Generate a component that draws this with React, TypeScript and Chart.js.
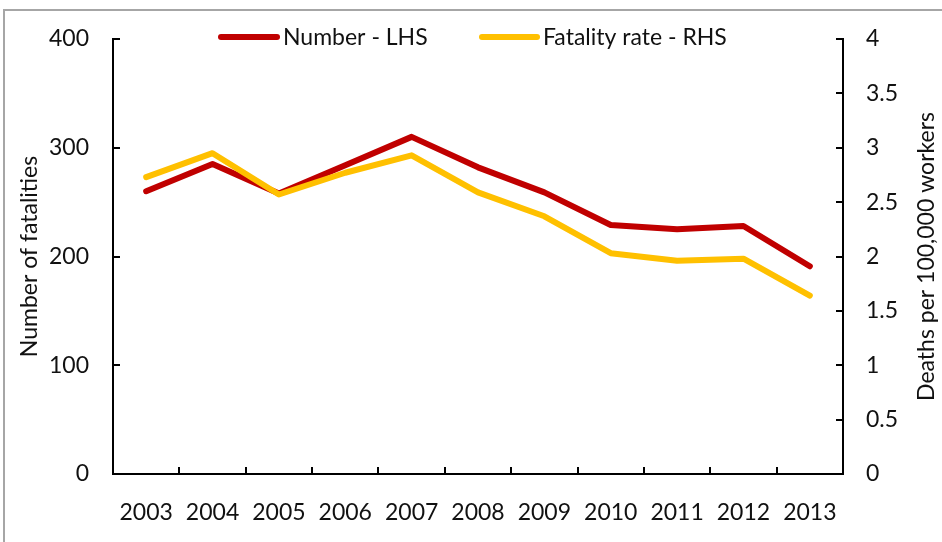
import React, { useEffect, useRef } from "react";
import { Chart, registerables } from "chart.js";

Chart.register(...registerables);

const years = ["2003", "2004", "2005", "2006", "2007", "2008", "2009", "2010", "2011", "2012", "2013"];
const fatalities = [260, 285, 258, 284, 310, 282, 259, 229, 225, 228, 191];
const fatalityRate = [2.73, 2.95, 2.57, 2.77, 2.93, 2.59, 2.37, 2.03, 1.96, 1.98, 1.64];
const leftTicks = [0, 100, 200, 300, 400];
const rightTicks = [0, 0.5, 1, 1.5, 2, 2.5, 3, 3.5, 4];
const legendLabels = ["Number - LHS", "Fatality rate - RHS"];
const leftTitle = "Number of fatalities";
const rightTitle = "Deaths per 100,000 workers";

const RED = "#C00000";
const YELLOW = "#FFC000";
const FONT = "Lato, 'Open Sans', sans-serif";
const TEXT = "#111111";

export default function App() {
  const ref = useRef<HTMLCanvasElement | null>(null);

  useEffect(() => {
    if (!ref.current) return;
    const deco = {
      id: "deco",
      afterDraw(chart: any) {
        const ctx = chart.ctx;
        const a = chart.chartArea;
        const yL = chart.scales.y;
        const yR = chart.scales.y1;
        ctx.save();
        ctx.strokeStyle = "#000";
        ctx.lineWidth = 2;
        ctx.beginPath();
        leftTicks.forEach((v) => {
          const y = Math.round(yL.getPixelForValue(v));
          ctx.moveTo(a.left, y);
          ctx.lineTo(a.left + 7, y);
        });
        rightTicks.forEach((v) => {
          const y = Math.round(yR.getPixelForValue(v));
          ctx.moveTo(a.right - 7, y);
          ctx.lineTo(a.right, y);
        });
        const n = years.length;
        for (let i = 1; i < n; i++) {
          const x = Math.round(a.left + ((a.right - a.left) * i) / n);
          ctx.moveTo(x, a.bottom);
          ctx.lineTo(x, a.bottom - 7);
        }
        ctx.stroke();

        // titles
        ctx.fillStyle = TEXT;
        ctx.font = `23px ${FONT}`;
        ctx.textAlign = "center";
        ctx.textBaseline = "middle";
        const cy = (a.top + a.bottom) / 2;
        ctx.save();
        ctx.translate(30, cy);
        ctx.rotate(-Math.PI / 2);
        ctx.fillText(leftTitle, 0, 0);
        ctx.restore();
        ctx.save();
        ctx.translate(927, cy);
        ctx.rotate(-Math.PI / 2);
        ctx.fillText(rightTitle, 0, 0);
        ctx.restore();

        // legend
        const items = [
          { x0: 221, x1: 277, tx: 283, color: RED, label: legendLabels[0] },
          { x0: 482, x1: 537, tx: 543, color: YELLOW, label: legendLabels[1] },
        ];
        ctx.lineCap = "round";
        ctx.lineWidth = 6;
        ctx.textAlign = "left";
        items.forEach((it) => {
          ctx.strokeStyle = it.color;
          ctx.beginPath();
          ctx.moveTo(it.x0, 37);
          ctx.lineTo(it.x1, 37);
          ctx.stroke();
          ctx.fillStyle = TEXT;
          ctx.fillText(it.label, it.tx, 38);
        });
        ctx.restore();
      },
    };

    const tickFont = { family: FONT, size: 23 };
    const chart = new Chart(ref.current, {
      type: "line",
      data: {
        labels: years,
        datasets: [
          {
            label: legendLabels[0],
            data: fatalities,
            yAxisID: "y",
            borderColor: RED,
            backgroundColor: RED,
            borderWidth: 6,
            pointRadius: 0,
            tension: 0,
            borderCapStyle: "round",
            borderJoinStyle: "round",
            order: 2,
          },
          {
            label: legendLabels[1],
            data: fatalityRate,
            yAxisID: "y1",
            borderColor: YELLOW,
            backgroundColor: YELLOW,
            borderWidth: 6,
            pointRadius: 0,
            tension: 0,
            borderCapStyle: "round",
            borderJoinStyle: "round",
            order: 1,
          },
        ],
      },
      options: {
        animation: false,
        responsive: false,
        maintainAspectRatio: false,
        events: [],
        layout: { padding: { top: 39, left: 0, right: 0, bottom: 0 } },
        plugins: { legend: { display: false }, tooltip: { enabled: false } },
        scales: {
          x: {
            type: "category",
            offset: true,
            grid: { display: false, drawTicks: false },
            border: { display: true, color: "#000", width: 2 },
            ticks: { font: tickFont, color: TEXT, padding: 25, maxRotation: 0, autoSkip: false },
            afterFit(s: any) {
              s.height = 68;
            },
          },
          y: {
            position: "left",
            min: 0,
            max: 400,
            grid: { display: false, drawTicks: false },
            border: { display: true, color: "#000", width: 2 },
            ticks: { stepSize: 100, font: tickFont, color: TEXT, padding: 24 },
            afterFit(s: any) {
              s.width = 113;
            },
          },
          y1: {
            position: "right",
            min: 0,
            max: 4,
            grid: { display: false, drawTicks: false },
            border: { display: true, color: "#000", width: 2 },
            ticks: {
              stepSize: 0.5,
              font: tickFont,
              color: TEXT,
              padding: 23,
              callback: (v: any) => String(v),
            },
            afterFit(s: any) {
              s.width = 99;
            },
          },
        },
      },
      plugins: [deco],
    });
    return () => chart.destroy();
  }, []);

  return (
    <div style={{ position: "fixed", left: 0, top: 0, width: 942, height: 542, overflow: "hidden", background: "#fff" }}>
      <div
        style={{
          position: "absolute",
          left: 3,
          top: 9,
          width: 1000,
          height: 600,
          border: "2px solid #a6a6a6",
          boxSizing: "border-box",
        }}
      />
      <canvas ref={ref} width={942} height={542} style={{ position: "absolute", left: 0, top: 0, width: 942, height: 542 }} />
    </div>
  );
}
